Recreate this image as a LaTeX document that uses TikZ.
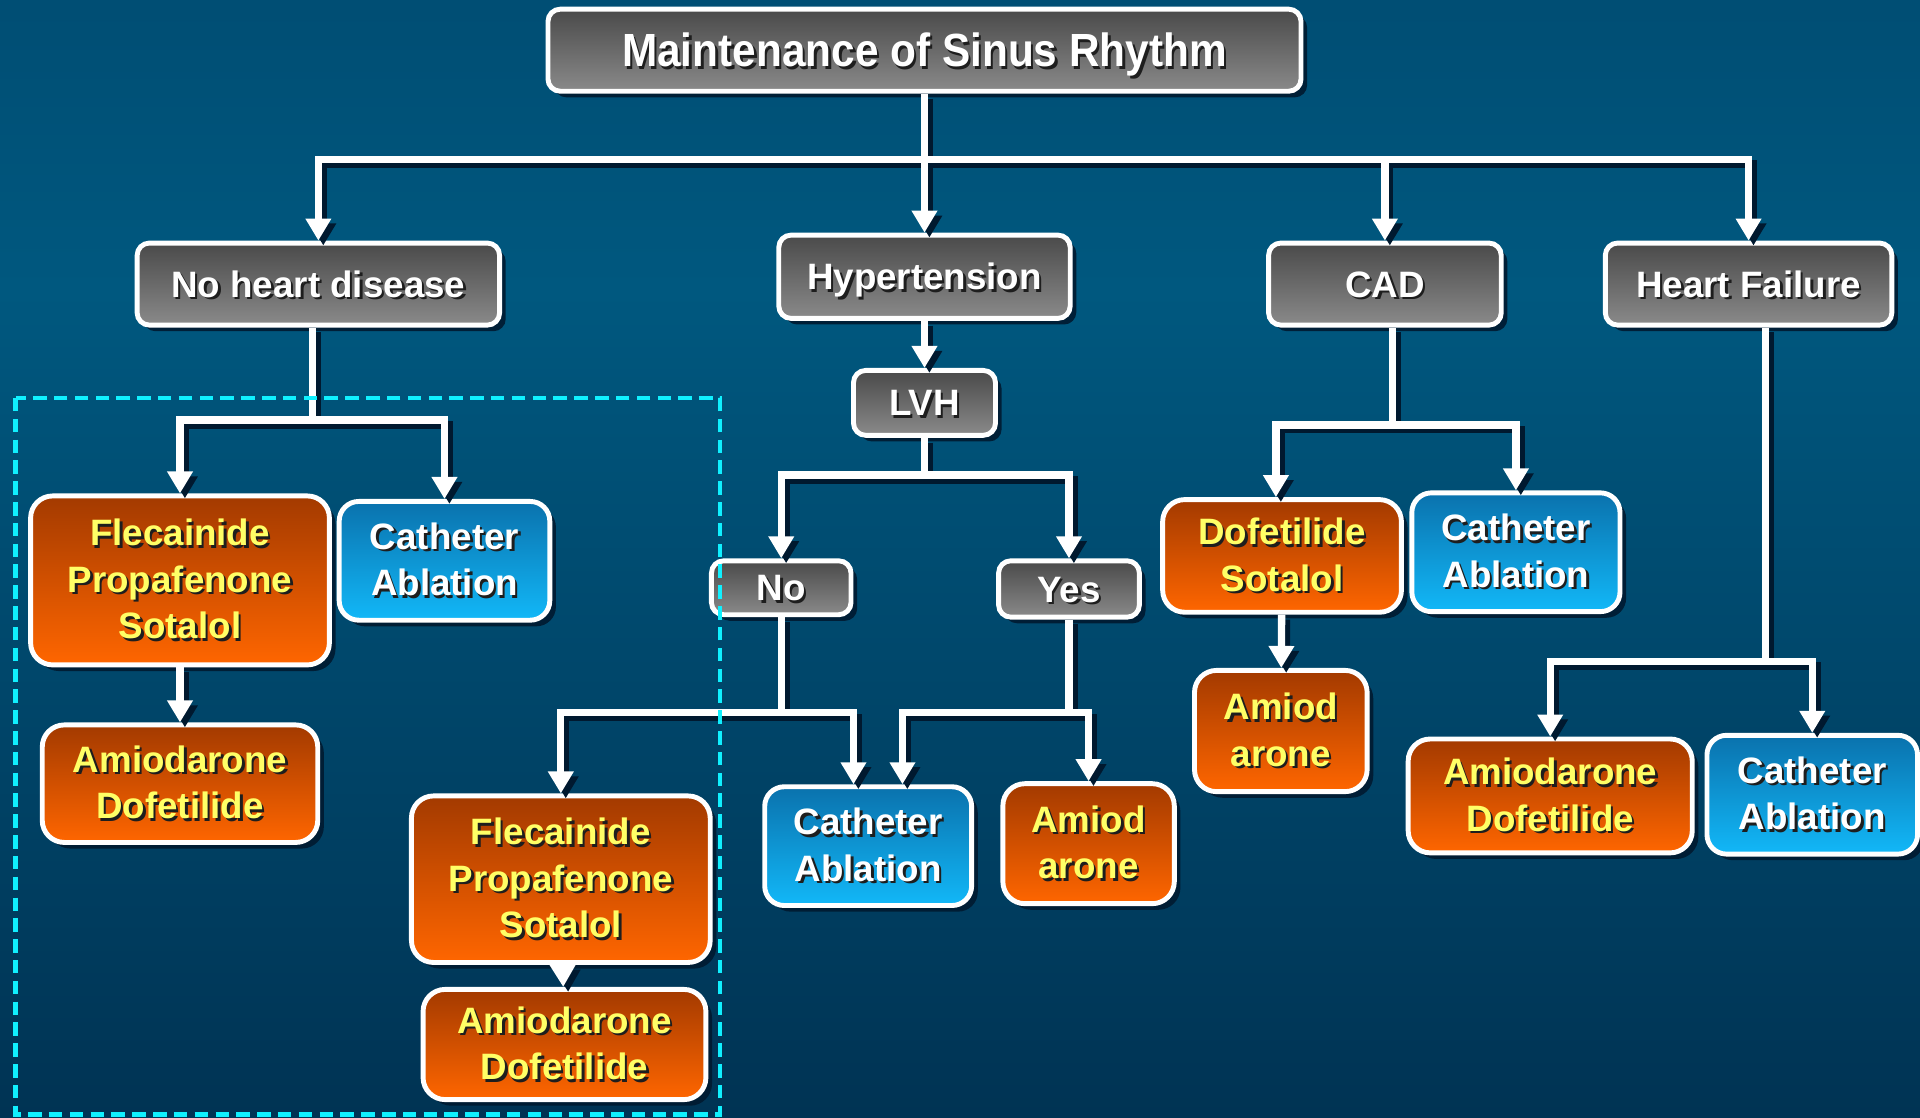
\documentclass[tikz,border=0pt]{standalone}
\usepackage{fontspec}
\setmainfont{Liberation Sans}
\newfontfamily\titlefont[FakeStretch=0.91]{Liberation Sans}
\usetikzlibrary{arrows.meta,shadows,calc}

\definecolor{bgtop}{HTML}{003A5E}
\definecolor{bgmid}{HTML}{00587F}
\definecolor{bgbot}{HTML}{001A36}
\definecolor{greytop}{HTML}{4A4A4A}
\definecolor{greybot}{HTML}{8A8A8A}
\definecolor{orangetop}{HTML}{A33A00}
\definecolor{orangebot}{HTML}{FF6600}
\definecolor{bluetop}{HTML}{0A72AD}
\definecolor{bluebot}{HTML}{12B8F8}
\definecolor{drugyellow}{HTML}{FFFF66}
\definecolor{txtshadow}{HTML}{1E1E1E}
\definecolor{boxshadow}{HTML}{001A30}
\definecolor{linkshadow}{HTML}{00192F}
\definecolor{dashcyan}{HTML}{10F0FF}

\pgfdeclareverticalshading{bgshade}{100bp}{color(0bp)=(bgbot); color(62bp)=(bgmid); color(100bp)=(bgtop)}

% text with a small dark shadow
\newcommand\sh[1]{\leavevmode\rlap{\kern2pt\raisebox{-2pt}{\color{txtshadow}#1}}#1}

\tikzset{
  box/.style={draw=white, line width=4pt, align=center, inner sep=0pt,
    font=\bfseries\fontsize{30}{38}\selectfont,
    drop shadow={shadow xshift=5pt, shadow yshift=-5pt, fill=boxshadow, opacity=0.9}},
  greybox/.style={box, rounded corners=10pt, top color=greytop, bottom color=greybot, text=white,
    text height=22pt, text depth=0.6pt},
  drugbox/.style={box, rounded corners=18pt, top color=orangetop, bottom color=orangebot, text=drugyellow},
  ablbox/.style={box, rounded corners=16pt, top color=bluetop, bottom color=bluebot, text=white},
  link/.style={line width=6pt},
  arrow/.style={link, -{Triangle[width=20pt,length=18pt]}}
}

% all connectors, drawn once as shadow and once in white
\newcommand\treelinks{
  \draw[arrow] (title) -- (htn);
  \draw[arrow] (hub) -| (nhd);
  \draw[arrow] (hub) -| (cad);
  \draw[arrow] (hub) -| (hf);
  % no heart disease
  \draw[link] (nhd.south -| nhdj) -- (nhdj);
  \draw[arrow] (nhdj) -| (flecA);
  \draw[arrow] (nhdj) -| (cathA);
  \draw[arrow] (flecA) -- (amioA);
  % hypertension
  \draw[arrow] (htn) -- (lvh);
  \draw[link] (lvh.south -| lvhj) -- (lvhj);
  \draw[arrow] (lvhj) -| (no);
  \draw[arrow] (lvhj) -| (yes);
  \draw[link] (no.south -| noj) -- (noj);
  \draw[arrow] (noj) -| (flecB);
  \draw[arrow] (noj) -| ($(cathB.north)+(-12,0)$);
  \draw[arrow] (flecB) -- (amioB);
  \draw[link] (yes.south -| yesj) -- (yesj);
  \draw[arrow] (yesj) -| ($(cathB.north)+(28,0)$);
  \draw[arrow] (yesj) -| (amiodY);
  % CAD
  \draw[link] (cad.south -| cadj) -- (cadj);
  \draw[arrow] (cadj) -| ($(dofe.north)+(-5,0)$);
  \draw[arrow] (cadj) -| (cathC);
  \draw[arrow] (dofe) -- (amiodC);
  % heart failure
  \draw[link] (hf.south -| hfj) -- (hfj);
  \draw[arrow] (hfj) -| (amioH);
  \draw[arrow] (hfj) -| (cathH);
}

\begin{document}
\begin{tikzpicture}[x=1pt, y=-1pt]
  \shade[shading=bgshade] (0,0) rectangle (1568,913);
  \useasboundingbox (0,0) rectangle (1568,913);

  % top level
  \node[greybox, minimum width=615pt, minimum height=67pt, text height=28pt, text depth=0.8pt,
    font=\titlefont\bfseries\fontsize{38}{44}\selectfont] (title) at (755,41)
    {\sh{Maintenance of Sinus Rhythm}};
  \node[greybox, minimum width=296pt, minimum height=67pt] (nhd) at (260,232) {\sh{No heart disease}};
  \node[greybox, minimum width=238pt, minimum height=68pt] (htn) at (755,226) {\sh{Hypertension}};
  \node[greybox, minimum width=190pt, minimum height=67pt] (cad) at (1131,232) {\sh{CAD}};
  \node[greybox, minimum width=234pt, minimum height=67pt] (hf) at (1428,232) {\sh{Heart Failure}};

  % no heart disease
  \node[drugbox, minimum width=244pt, minimum height=138pt] (flecA) at (147,474)
    {\sh{Flecainide}\\\sh{Propafenone}\\\sh{Sotalol}};
  \node[ablbox, minimum width=172pt, minimum height=97pt] (cathA) at (363,458) {\sh{Catheter}\\\sh{Ablation}};
  \node[drugbox, minimum width=225pt, minimum height=96pt] (amioA) at (147,640) {\sh{Amiodarone}\\\sh{Dofetilide}};

  % hypertension
  \node[greybox, minimum width=116pt, minimum height=53pt] (lvh) at (755,329) {\sh{LVH}};
  \node[greybox, minimum width=114pt, minimum height=44pt] (no) at (638,480) {\sh{No}};
  \node[greybox, minimum width=115pt, minimum height=46pt] (yes) at (873,481) {\sh{Yes}};
  \node[drugbox, minimum width=244pt, minimum height=136pt] (flecB) at (458,718)
    {\sh{Flecainide}\\\sh{Propafenone}\\\sh{Sotalol}};
  \node[drugbox, minimum width=231pt, minimum height=90pt] (amioB) at (461,853) {\sh{Amiodarone}\\\sh{Dofetilide}};
  \node[ablbox, minimum width=169pt, minimum height=97pt] (cathB) at (709,691) {\sh{Catheter}\\\sh{Ablation}};
  \node[drugbox, minimum width=140pt, minimum height=98pt] (amiodY) at (889,689) {\sh{Amiod}\\\sh{arone}};

  % CAD
  \node[drugbox, minimum width=195pt, minimum height=92pt] (dofe) at (1047,454) {\sh{Dofetilide}\\\sh{Sotalol}};
  \node[ablbox, minimum width=170pt, minimum height=97pt] (cathC) at (1238,451) {\sh{Catheter}\\\sh{Ablation}};
  \node[drugbox, minimum width=141pt, minimum height=99pt] (amiodC) at (1046,597) {\sh{Amiod}\\\sh{arone}};

  % heart failure
  \node[drugbox, minimum width=232pt, minimum height=93pt] (amioH) at (1266,650) {\sh{Amiodarone}\\\sh{Dofetilide}};
  \node[ablbox, minimum width=172pt, minimum height=97pt] (cathH) at (1480,649) {\sh{Catheter}\\\sh{Ablation}};

  \coordinate (hub) at (755,130);
  \coordinate (nhdj) at (255,343);
  \coordinate (lvhj) at (755,388);
  \coordinate (noj) at (638,582);
  \coordinate (yesj) at (873,582);
  \coordinate (cadj) at (1137,347);
  \coordinate (hfj) at (1442,540);

  \begin{scope}[color=linkshadow, transform canvas={shift={(4pt,-4pt)}}]
    \treelinks
  \end{scope}
  \begin{scope}[color=white]
    \treelinks
  \end{scope}

  \draw[dashcyan, line width=4pt, dash pattern=on 11pt off 6pt] (13,325) rectangle (588,910);
\end{tikzpicture}
\end{document}
